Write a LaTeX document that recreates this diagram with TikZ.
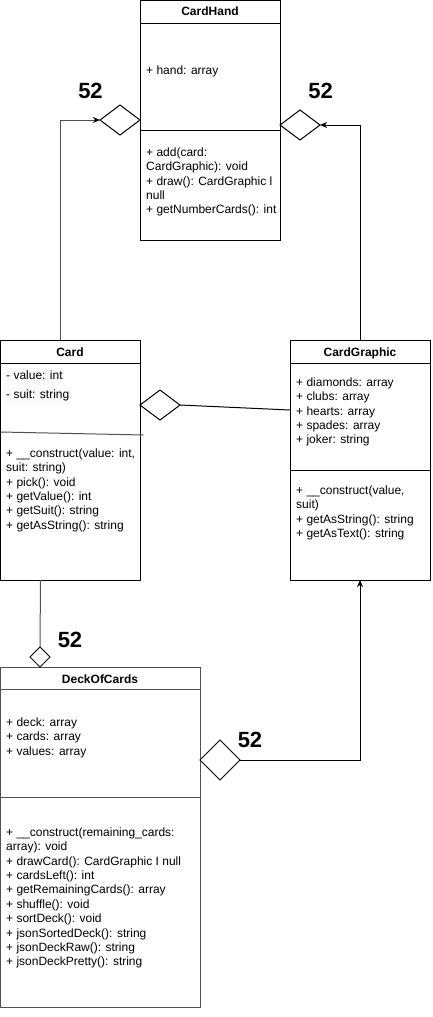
\documentclass[tikz,border=0pt]{standalone}
\usepackage{fontspec}
\setmainfont{Liberation Sans}
\usetikzlibrary{shapes.geometric,arrows.meta,calc}
\definecolor{dgray}{RGB}{80,80,80}
\begin{document}
\begin{tikzpicture}[x=1pt,y=-1pt,
  box/.style={draw=black, line width=1pt, inner sep=0pt, outer sep=0pt, anchor=north west},
  grbox/.style={box, draw=dgray},
  ctitle/.style={font=\fontsize{12}{14.4}\selectfont\bfseries, inner sep=0pt, anchor=base},
  txt/.style={font=\fontsize{12}{14.4}\selectfont, align=left, inner sep=0pt, anchor=north west},
  hltxt/.style={txt, fill=black!2, inner sep=1pt},
  dia/.style={draw=black, diamond, inner sep=0pt, outer sep=0pt, line width=1pt, fill=white},
  num/.style={font=\fontsize{22}{26}\selectfont\bfseries, inner sep=0pt, anchor=center},
  link/.style={line width=1pt, draw=black},
  glink/.style={line width=1pt, draw=dgray},
  arr/.style={line width=1pt, -{Stealth[length=7pt,width=6pt,inset=2pt,color=black]}},
]
\useasboundingbox (0,0) rectangle (432,1017);

% ---------- CardHand ----------
\node[box, minimum width=140pt, minimum height=240pt] (hand) at (140,0) {};
\draw[link] ($(hand.north west)+(0,23)$) -- ($(hand.north east)+(0,23)$);
\draw[link] ($(hand.north west)+(0,130)$) -- ($(hand.north east)+(0,130)$);
\node[ctitle] (handT) at (210,16) {CardHand};
\node[txt] (handA) at (146,64) {\strut+ hand: array};
\node[txt] (handM) at (146,146) {\strut+ add(card:\\CardGraphic): void\\+ draw(): CardGraphic l\\null\\+ getNumberCards(): int};

% ---------- Card ----------
\node[box, minimum width=140pt, minimum height=240pt] (card) at (0.5,340) {};
\draw[link] ($(card.north west)+(0,23)$) -- ($(card.north east)+(0,23)$);
\draw[glink] ($(card.north west)+(0,92)$) -- ($(card.north east)+(3,95)$);
\node[ctitle] (cardT) at (70,356) {Card};
\node[hltxt] (cardA1) at (5,368) {\strut- value: int};
\node[hltxt] (cardA2) at (5,387) {\strut- suit: string};
\node[txt] (cardM) at (6,447) {\strut+ \_\_construct(value: int,\\suit: string)\\+ pick(): void\\+ getValue(): int\\+ getSuit(): string\\+ getAsString(): string};

% ---------- CardGraphic ----------
\node[box, minimum width=140pt, minimum height=240pt] (graph) at (290,340) {};
\draw[link] ($(graph.north west)+(0,23)$) -- ($(graph.north east)+(0,23)$);
\draw[link] ($(graph.north west)+(0,130)$) -- ($(graph.north east)+(0,130)$);
\node[ctitle] (graphT) at (360,356) {CardGraphic};
\node[txt] (graphA) at (296,376) {\strut+ diamonds: array\\+ clubs: array\\+ hearts: array\\+ spades: array\\+ joker: string};
\node[txt] (graphM) at (296,484) {\strut+ \_\_construct(value,\\suit)\\+ getAsString(): string\\+ getAsText(): string};

% ---------- DeckOfCards ----------
\node[grbox, minimum width=200pt, minimum height=340pt] (deck) at (0.5,667) {};
\draw[glink] ($(deck.north west)+(0,22)$) -- ($(deck.north east)+(0,22)$);
\draw[glink] ($(deck.north west)+(0,130)$) -- ($(deck.north east)+(0,130)$);
\node[ctitle] (deckT) at (100,683) {DeckOfCards};
\node[txt] (deckA) at (6,716) {\strut+ deck: array\\+ cards: array\\+ values: array};
\node[txt] (deckM) at (6,826) {\strut+ \_\_construct(remaining\_cards:\\array): void\\+ drawCard(): CardGraphic I null\\+ cardsLeft(): int\\+ getRemainingCards(): array\\+ shuffle(): void\\+ sortDeck(): void\\+ jsonSortedDeck(): string\\+ jsonDeckRaw(): string\\+ jsonDeckPretty(): string};

% ---------- diamonds ----------
\node[dia, minimum width=40pt, minimum height=30pt] (d1) at (120,120) {};
\node[dia, minimum width=40pt, minimum height=30pt] (d2) at (300,125) {};
\node[dia, minimum width=40pt, minimum height=30pt] (d3) at (160,405) {};
\node[dia, minimum width=20pt, minimum height=20pt] (d4) at (40,657) {};
\node[dia, minimum width=40pt, minimum height=40pt] (d5) at (220,760) {};

% ---------- multiplicities ----------
\node[num] (n1) at (90.5,91) {52};
\node[num] (n2) at (320.5,91) {52};
\node[num] (n3) at (70,640) {52};
\node[num] (n4) at (250,740) {52};

% ---------- connectors ----------
\coordinate (cardTop) at ($(card.north west)+(60,0)$);
\coordinate (graphTop) at ($(graph.north west)+(70,0)$);
\coordinate (cardBot) at ($(card.south west)+(40,0)$);
\coordinate (graphBot) at ($(graph.south west)+(70,0)$);
\coordinate (graphIn) at ($(graph.north west)+(0,70)$);
\draw[arr, draw=dgray] (cardTop) |- (d1.west);
\draw[arr] (graphTop) |- (d2.east);
\draw[link] (d3.east) -- (graphIn);
\draw[glink] (cardBot) -- (d4.north);
\draw[arr] (d5.east) -| (graphBot);
\end{tikzpicture}
\end{document}
